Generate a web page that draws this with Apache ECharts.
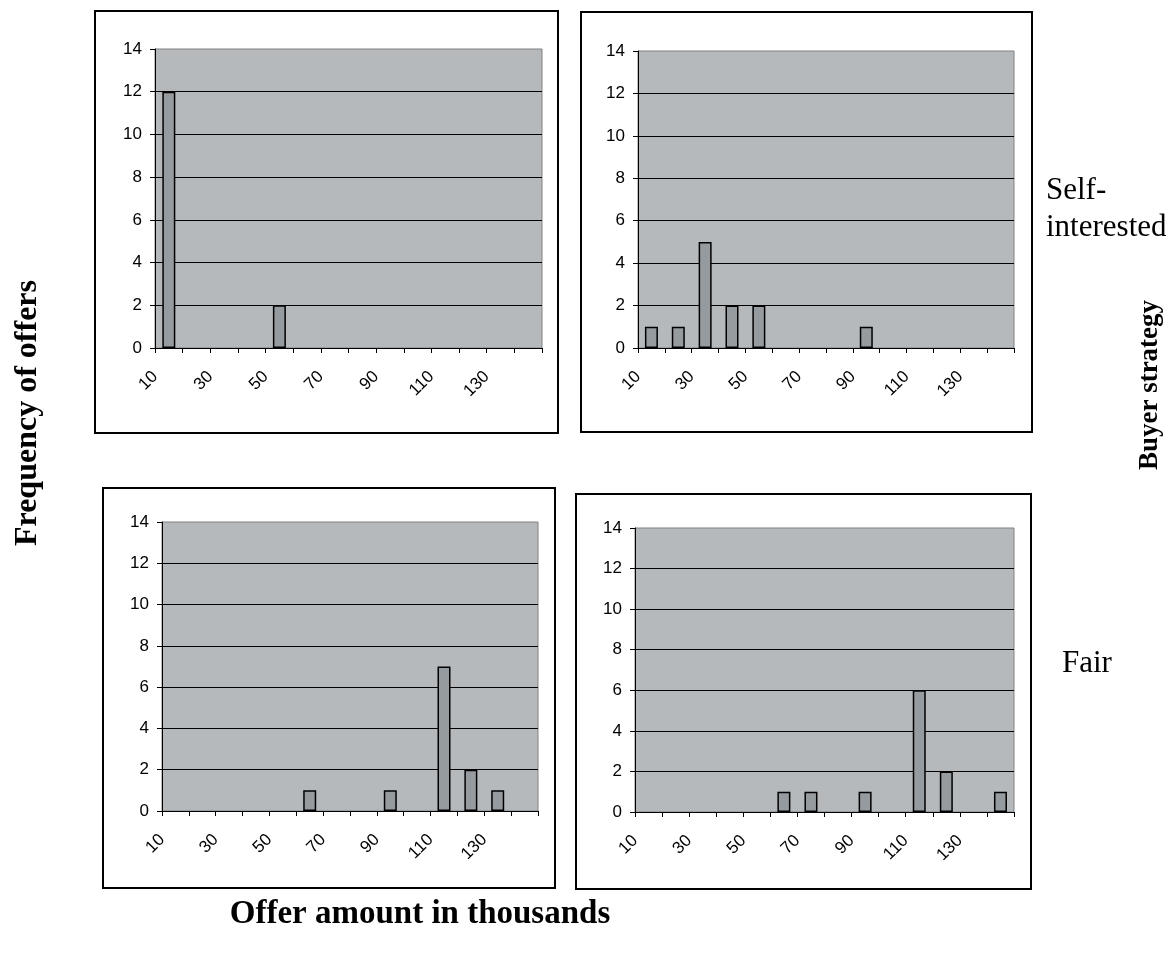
<!DOCTYPE html>
<html>
<head>
<meta charset="utf-8">
<script src="https://cdn.jsdelivr.net/npm/echarts@6/dist/echarts.min.js"></script>
<style>
html,body{margin:0;padding:0;background:#fff;}
#chart{width:1176px;height:954px;}
</style>
</head>
<body>
<div id="chart"></div>
<script>
// Bin lower bounds (offer amount in thousands), bins of width 10
const binStarts = [10, 20, 30, 40, 50, 60, 70, 80, 90, 100, 110, 120, 130, 140];
const binWidth = 10;
// Frequency of offers per bin, one array per panel
const topLeftCounts     = [12, 0, 0, 0, 2, 0, 0, 0, 0, 0, 0, 0, 0, 0];
const topRightCounts    = [1, 1, 5, 2, 2, 0, 0, 0, 1, 0, 0, 0, 0, 0];
const bottomLeftCounts  = [0, 0, 0, 0, 0, 1, 0, 0, 1, 0, 7, 2, 1, 0];
const bottomRightCounts = [0, 0, 0, 0, 0, 1, 1, 0, 1, 0, 6, 2, 0, 1];
const xLabels = [10, 30, 50, 70, 90, 110, 130];
const yMax = 14, yStep = 2;

const panels = [
  { counts: topLeftCounts,     grid: {left:155, top:49,  width:387, height:299}, box:{x:95,  y:11,  w:463, h:422} },
  { counts: topRightCounts,    grid: {left:638, top:51,  width:376, height:297}, box:{x:581, y:12,  w:451, h:420} },
  { counts: bottomLeftCounts,  grid: {left:162, top:522, width:376, height:289}, box:{x:103, y:488, w:452, h:400} },
  { counts: bottomRightCounts, grid: {left:635, top:528, width:379, height:284}, box:{x:576, y:494, w:455, h:395} }
];

const sans = 'Liberation Sans, Arial, sans-serif';
const grids = [], xAxes = [], yAxes = [], series = [], graphics = [];
panels.forEach((p, i) => {
  grids.push(Object.assign({
    show: true, backgroundColor: '#b5b9bc', borderColor: '#808080', borderWidth: 1
  }, p.grid));
  xAxes.push({
    type: 'value', gridIndex: i,
    min: binStarts[0], max: binStarts[binStarts.length - 1] + binWidth, interval: binWidth,
    axisLine: { show: true, onZero: false, lineStyle: { color: '#000', width: 1 } },
    axisTick: { show: true, length: 5, lineStyle: { color: '#000' } },
    splitLine: { show: false },
    axisLabel: {
      rotate: 45, margin: 26, color: '#000', fontSize: 17, fontFamily: sans,
      showMinLabel: true, showMaxLabel: true,
      formatter: v => xLabels.indexOf(v) >= 0 ? String(v) : ''
    }
  });
  yAxes.push({
    type: 'value', gridIndex: i, min: 0, max: yMax, interval: yStep,
    axisLine: { show: true, lineStyle: { color: '#000', width: 1 } },
    axisTick: { show: true, length: 5, lineStyle: { color: '#000' } },
    splitLine: { show: true, showMinLine: false, showMaxLine: false, lineStyle: { color: '#000', width: 1 } },
    axisLabel: { color: '#000', fontSize: 17, margin: 13, fontFamily: sans }
  });
  series.push({
    type: 'bar', xAxisIndex: i, yAxisIndex: i,
    barWidth: 13,
    itemStyle: { color: '#969ba0', borderColor: '#000', borderWidth: 1.5 },
    data: binStarts.map((b, k) => [b + binWidth / 2, p.counts[k]]).filter(d => d[1] > 0),
    silent: true, animation: false
  });
  graphics.push({
    type: 'rect', shape: { x: p.box.x, y: p.box.y, width: p.box.w, height: p.box.h },
    style: { fill: null, stroke: '#000', lineWidth: 2 }, z: 100
  });
});

const serif = 'Liberation Serif, Times New Roman, serif';
graphics.push(
  { type: 'text', x: 28, y: 413, rotation: Math.PI / 2,
    style: { text: 'Frequency of offers', font: 'bold 32px ' + serif, fill: '#000', align: 'center', verticalAlign: 'middle' } },
  { type: 'text', x: 1150, y: 385, rotation: Math.PI / 2,
    style: { text: 'Buyer strategy', font: 'bold 27px ' + serif, fill: '#000', align: 'center', verticalAlign: 'middle' } },
  { type: 'text', x: 420, y: 914,
    style: { text: 'Offer amount in thousands', font: 'bold 33px ' + serif, fill: '#000', align: 'center', verticalAlign: 'middle' } },
  { type: 'text', x: 1046, y: 172,
    style: { text: 'Self-\ninterested', font: '31px ' + serif, lineHeight: 37, fill: '#000', align: 'left', verticalAlign: 'top' } },
  { type: 'text', x: 1062, y: 648,
    style: { text: 'Fair', font: '31px ' + serif, fill: '#000', align: 'left', verticalAlign: 'top' } }
);

const chart = echarts.init(document.getElementById('chart'), null, { renderer: 'canvas' });
chart.setOption({
  animation: false,
  backgroundColor: '#fff',
  grid: grids, xAxis: xAxes, yAxis: yAxes, series: series,
  graphic: graphics
});
</script>
</body>
</html>
